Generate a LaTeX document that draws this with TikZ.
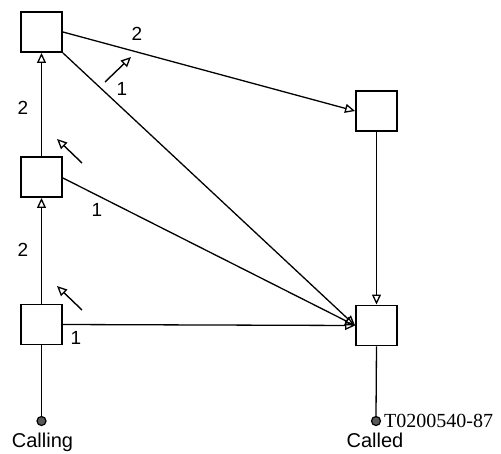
\documentclass[tikz,border=0pt]{standalone}
\usepackage{fontspec}
\setmainfont{Liberation Sans}
\newfontfamily\codefont{Liberation Serif}
\usetikzlibrary{arrows.meta}
\begin{document}
\begin{tikzpicture}[x=1pt,y=-1pt,
  box/.style={draw,line width=1.9pt,minimum width=41pt,minimum height=40pt,inner sep=0pt,fill=white},
  link/.style={line width=1.3pt},
  arr/.style={line width=1.3pt,-{Triangle[open,length=10pt,width=9pt,line width=1.3pt]}},
  dirarr/.style={line width=1.4pt,-{Triangle[open,length=10pt,width=9pt,line width=1.3pt]}},
  lbl/.style={font=\fontsize{19}{19}\selectfont,inner sep=0pt},
  term/.style={circle,draw,line width=1.2pt,fill=black!65,minimum size=9pt,inner sep=0pt}]
\useasboundingbox (0,0) rectangle (501,453);
% boxes
\node[box] (TL) at (41.5,32) {};
\node[box] (ML) at (41.5,177) {};
\node[box] (BL) at (41.5,324.5) {};
\node[box] (RT) at (376.5,111) {};
\node[box] (RB) at (376.5,325.5) {};
% terminals
\node[term] (D1) at (41.5,421) {};
\node[term] (D2) at (376,421) {};
\node[lbl,font=\fontsize{20}{20}\selectfont] (calling) at (42.5,442) {Calling};
\node[lbl,font=\fontsize{20}{20}\selectfont] (called) at (375,440) {Called};
\node[lbl,font=\fontsize{20}{20}\codefont,anchor=west] (code) at (384,421) {T0200540-87};
% connectors
\draw[link] (BL.south) -- (D1.north);
\draw[link] (RB.south) -- (D2.north);
\draw[arr] (BL.north) -- (ML.south);
\draw[arr] (ML.north) -- (TL.south);
\draw[arr] (TL.east) -- (RT.west);
\draw[arr] (TL.south east) -- (RB.west);
\draw[arr] ([yshift=-1pt]ML.east) -- (RB.west);
\draw[arr] (BL.east) -- (RB.west);
\draw[arr] (RT.south) -- (RB.north);
% labels
\node[lbl] (l2a) at (23,250) {2};
\node[lbl] (l2b) at (23,108) {2};
\node[lbl] (l2c) at (137,34) {2};
\node[lbl] (l1a) at (122,89) {1};
\node[lbl] (l1b) at (97,210) {1};
\node[lbl] (l1c) at (76,338) {1};
% direction arrows
\coordinate (a1s) at (105,82); \coordinate (a1e) at (131,57);
\coordinate (a2s) at (82,163); \coordinate (a2e) at (57,139);
\coordinate (a3s) at (82,310); \coordinate (a3e) at (57,286);
\draw[dirarr] (a1s) -- (a1e);
\draw[dirarr] (a2s) -- (a2e);
\draw[dirarr] (a3s) -- (a3e);
\end{tikzpicture}
\end{document}
